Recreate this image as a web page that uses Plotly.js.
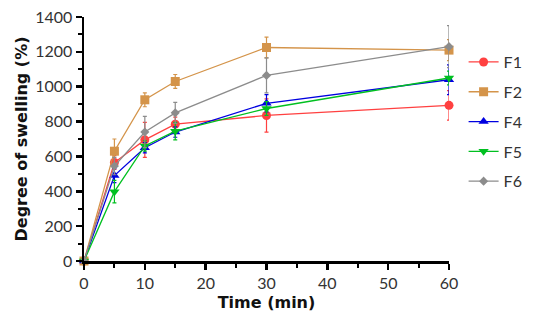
<!DOCTYPE html>
<html><head><meta charset="utf-8">
<script src="https://cdn.plot.ly/plotly-3.0.1.min.js"></script>
<style>body{margin:0}#c{width:550px;height:333px}</style>
</head><body><div id="c"></div>
<script>
const time = [0, 5, 10, 15, 30, 60];
const F1 = [0, 565, 695, 785, 835, 893];
const F1err = [0, 40, 100, 40, 95, 85];
const F2 = [0, 630, 925, 1030, 1225, 1210];
const F2err = [0, 70, 40, 40, 60, 60];
const F4 = [0, 490, 650, 740, 905, 1040];
const F4err = [0, 40, 30, 30, 50, 85];
const F5 = [0, 398, 660, 745, 875, 1050];
const F5err = [0, 65, 30, 50, 40, 40];
const F6 = [0, 545, 740, 850, 1065, 1230];
const F6err = [0, 50, 90, 60, 100, 120];

const series = [
  {name:'F1', y:F1, e:F1err, color:'#ff4040', symbol:'circle', size:9},
  {name:'F2', y:F2, e:F2err, color:'#d4944a', symbol:'square', size:9},
  {name:'F4', y:F4, e:F4err, color:'#0000e0', symbol:'triangle-up', size:9},
  {name:'F5', y:F5, e:F5err, color:'#00c020', symbol:'triangle-down', size:9},
  {name:'F6', y:F6, e:F6err, color:'#8c8c8c', symbol:'diamond', size:7}
];
const traces = series.map(s => ({
  x: time, y: s.y, name: s.name, legendgroup: s.name, type: 'scatter', mode: 'lines+markers',
  line: {color: s.color, width: 1.3},
  marker: {color: s.color, symbol: s.symbol, size: s.size},
  error_y: {type: 'data', array: s.e, visible: true, color: s.color, thickness: 1.2, width: 2},
  cliponaxis: false
}));
const fontFam = 'Lato, "DejaVu Sans", sans-serif';
const titleFont = {size: 16, family: '"DejaVu Sans", sans-serif', weight: 'bold', color: '#111'};
Plotly.newPlot('c', traces, {
  width: 550, height: 333,
  margin: {l: 84, r: 101, t: 17, b: 72},
  paper_bgcolor: 'white', plot_bgcolor: 'white',
  font: {family: fontFam, color: '#222'},
  xaxis: {
    range: [0, 60], dtick: 10, showgrid: false, zeroline: false,
    showline: true, linecolor: '#000', linewidth: 2.5,
    ticks: 'outside', ticklen: 6, tickwidth: 2.5, tickcolor: '#000',
    minor: {dtick: 5, ticklen: 4, tickwidth: 2, tickcolor: '#000', showgrid: false},
    tickfont: {size: 16, family: fontFam, color: '#333'},
    title: {text: 'Time (min)', font: titleFont, standoff: 6}
  },
  yaxis: {
    range: [0, 1400], dtick: 200, showgrid: false, zeroline: false,
    showline: true, linecolor: '#000', linewidth: 2.5,
    ticks: 'outside', ticklen: 6, tickwidth: 2.5, tickcolor: '#000',
    minor: {dtick: 100, ticklen: 4, tickwidth: 2, tickcolor: '#000', showgrid: false},
    tickfont: {size: 16, family: fontFam, color: '#333'},
    title: {text: 'Degree of swelling (%)', font: titleFont, standoff: 4}
  },
  legend: {x: 1.04, y: 0.885, xanchor: 'left', yanchor: 'top', traceorder: 'grouped', font: {size: 16, family: fontFam, color: '#333'}, tracegroupgap: 6, itemwidth: 30, borderwidth: 0}
}, {displayModeBar: false, staticPlot: true});
</script></body></html>
